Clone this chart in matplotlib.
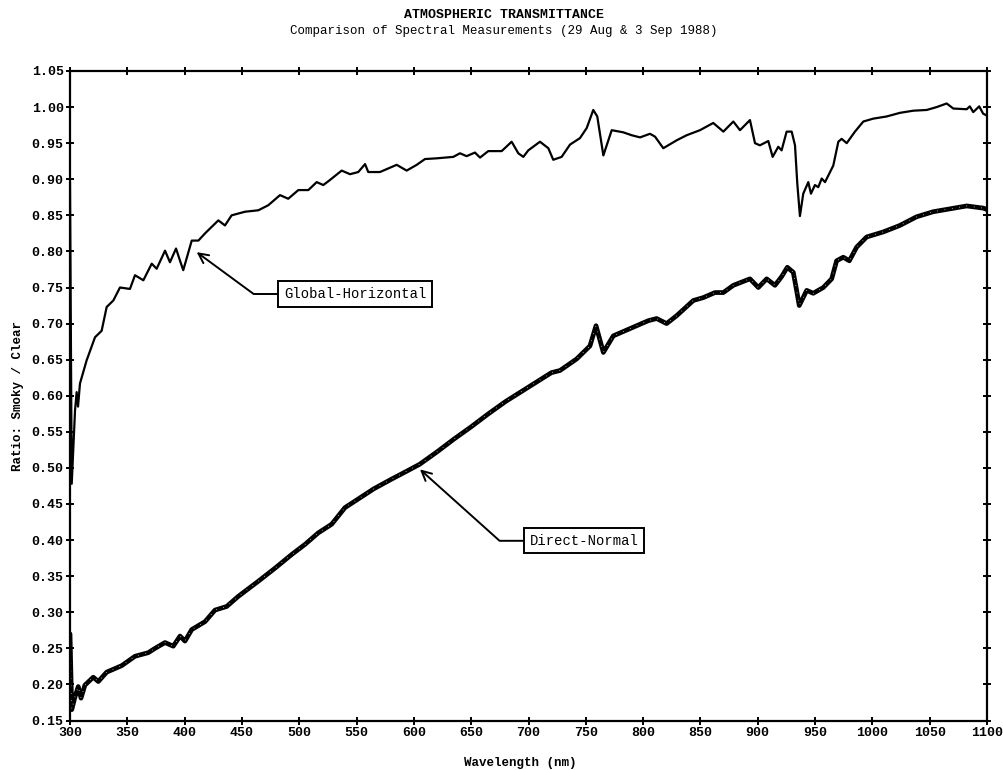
import matplotlib
matplotlib.use("Agg")
import matplotlib.pyplot as plt

# ---- data ----
global_wl = [300, 301.5, 304.4, 305.8, 307, 308.7, 314.5, 321.8, 327.6, 332, 337.8, 343.6,
             352.3, 356.7, 364, 371.3, 375.6, 382.9, 387.2, 392.5, 396, 398.8, 406.2, 412,
             417.8, 429.4, 435.2, 441, 452.7, 464.3, 473, 483.2, 490.4, 499.2, 507.9, 515.2,
             521, 526.8, 537, 544.3, 551.5, 557.4, 560.2, 570.4, 585, 593.7, 602.5, 609.7,
             619.9, 634.4, 640.2, 646, 653.3, 657.7, 664.9, 676.6, 685.3, 691.1, 695.5, 699.8,
             710, 717.3, 721.6, 728.9, 736.2, 744.9, 750.8, 756.5, 760, 765.3, 772.6, 782.7,
             790, 797.3, 806, 810.4, 817.6, 829.3, 838, 849.6, 861.2, 870, 878.7, 884.5,
             893.2, 897.6, 901.9, 909.2, 913, 917.9, 920.8, 925.2, 929.6, 932.5, 934.5, 936.8,
             939.7, 944.1, 946.4, 949.9, 952.8, 955.8, 958.7, 965.9, 970.3, 973.2, 977.6, 984.8,
             992.1, 1000.8, 1012.5, 1024, 1035.7, 1047.4, 1056.1, 1064.8, 1070.6, 1082.3, 1085,
             1088, 1093.2, 1096.6, 1100]
global_ratio = [0.895, 0.478, 0.58, 0.605, 0.585, 0.617, 0.649, 0.681, 0.69, 0.723, 0.732, 0.75,
                0.748, 0.767, 0.76, 0.783, 0.776, 0.801, 0.785, 0.804, 0.787, 0.774, 0.815, 0.815,
                0.825, 0.843, 0.836, 0.85, 0.855, 0.857, 0.864, 0.878, 0.873, 0.885, 0.885, 0.896,
                0.892, 0.899, 0.912, 0.907, 0.91, 0.921, 0.91, 0.91, 0.92, 0.912, 0.92, 0.928,
                0.929, 0.931, 0.936, 0.932, 0.937, 0.93, 0.939, 0.939, 0.952, 0.936, 0.931, 0.94,
                0.952, 0.943, 0.927, 0.931, 0.948, 0.957, 0.971, 0.996, 0.987, 0.933, 0.968, 0.965,
                0.961, 0.958, 0.963, 0.959, 0.943, 0.954, 0.961, 0.968, 0.978, 0.966, 0.98, 0.968,
                0.982, 0.95, 0.947, 0.953, 0.931, 0.945, 0.94, 0.966, 0.966, 0.947, 0.894, 0.849,
                0.88, 0.896, 0.88, 0.892, 0.889, 0.901, 0.896, 0.919, 0.952, 0.956, 0.95, 0.966,
                0.98, 0.984, 0.987, 0.992, 0.995, 0.996, 1.0, 1.005, 0.998, 0.997, 1.001,
                0.993, 1.001, 0.991, 0.988]

direct_wl = [300, 301.5, 304.4, 307.2, 309.6, 313, 320.3, 324.7, 332, 345.1, 356.7, 368.3,
             374.2, 382.9, 390.1, 396, 400.3, 406.2, 417.8, 426.5, 436.7, 446.8, 464.3, 478.8,
             493.4, 505, 516.6, 528.3, 539.9, 551.5, 565, 580, 592, 605, 620, 635, 650, 665,
             680, 695, 710, 720, 727.5, 742, 753.6, 758.9, 765.3, 774, 788.5, 804.5, 811.8,
             820.5, 829.3, 843.8, 852.5, 862.7, 870, 878.7, 893.2, 900.5, 907.8, 915, 920.8,
             925.8, 931, 933.9, 936.2, 942.7, 948.4, 957.2, 964.5, 968.8, 974.6, 979.9, 986.3,
             995, 1009.5, 1024, 1038.6, 1053.1, 1067.7, 1082.3, 1096.8, 1100]
direct_ratio = [0.27, 0.165, 0.183, 0.197, 0.181, 0.199, 0.21, 0.204, 0.217, 0.226, 0.239, 0.244,
                0.25, 0.258, 0.253, 0.267, 0.26, 0.276, 0.287, 0.303, 0.308, 0.322, 0.343, 0.361,
                0.38, 0.394, 0.41, 0.422, 0.445, 0.457, 0.471, 0.484, 0.494, 0.505, 0.522, 0.54,
                0.557, 0.575, 0.592, 0.607, 0.622, 0.632, 0.635, 0.651, 0.669, 0.697, 0.66, 0.683,
                0.693, 0.704, 0.707, 0.70, 0.711, 0.732, 0.736, 0.743, 0.743, 0.753, 0.762, 0.75,
                0.762, 0.753, 0.765, 0.778, 0.771, 0.746, 0.725, 0.746, 0.742, 0.75, 0.762, 0.787,
                0.792, 0.787, 0.806, 0.82, 0.827, 0.836, 0.848, 0.855, 0.859, 0.863, 0.86, 0.858]

x_ticks = list(range(300, 1101, 50))
y_ticks = [0.15, 0.20, 0.25, 0.30, 0.35, 0.40, 0.45, 0.50, 0.55, 0.60, 0.65, 0.70,
           0.75, 0.80, 0.85, 0.90, 0.95, 1.00, 1.05]

title1 = "ATMOSPHERIC TRANSMITTANCE"
title2 = "Comparison of Spectral Measurements (29 Aug & 3 Sep 1988)"
xlabel = "Wavelength (nm)"
ylabel = "Ratio: Smoky / Clear"
label_global = "Global-Horizontal"
label_direct = "Direct-Normal"

MONO = ["Liberation Mono", "DejaVu Sans Mono"]

fig = plt.figure(figsize=(10.04, 7.70), dpi=100)
ax = fig.add_axes([70 / 1004, 1 - 720.5 / 770, 917 / 1004, (720.5 - 71) / 770])

ax.plot(global_wl, global_ratio, color="black", lw=1.6, solid_joinstyle="round")
ax.plot(direct_wl, direct_ratio, color="black", lw=3.4, solid_joinstyle="round",
        solid_capstyle="round")
ax.plot(direct_wl, direct_ratio, color="white", lw=0.7, linestyle=(0, (0.6, 7)))

ax.set_xlim(300, 1100)
ax.set_ylim(0.15, 1.05)
ax.set_xticks(x_ticks)
ax.set_yticks(y_ticks)
ax.set_xticklabels([str(v) for v in x_ticks])
ax.set_yticklabels([f"{v:.2f}" for v in y_ticks])
ax.tick_params(direction="inout", length=6, width=1.4, top=True, right=True,
               labeltop=False, labelright=False, color="black")
ax.tick_params(axis="x", pad=2)
ax.tick_params(axis="y", pad=1.5)
for lab in ax.get_xticklabels() + ax.get_yticklabels():
    lab.set_fontfamily(MONO)
    lab.set_fontweight("bold")
    lab.set_fontsize(9.5)
for sp in ax.spines.values():
    sp.set_linewidth(1.6)

fig.text(0.502, 1 - 15 / 770, title1, ha="center", va="center", family=MONO,
         fontweight="bold", fontsize=9.5)
fig.text(0.502, 1 - 31 / 770, title2, ha="center", va="center", family=MONO, fontsize=9)
fig.text(520 / 1004, 1 - 763 / 770, xlabel, ha="center", va="center", family=MONO,
         fontweight="bold", fontsize=9)
fig.text(18 / 1004, 1 - 396 / 770, ylabel, ha="center", va="center", rotation=90,
         family=MONO, fontweight="bold", fontsize=9)

box = dict(boxstyle="square,pad=0.4", fc="white", ec="black", lw=1.4)
arrow_g = dict(arrowstyle="->,head_length=0.7,head_width=0.35", color="black", lw=1.4,
               shrinkA=0, shrinkB=0, connectionstyle="angle,angleA=0,angleB=-36.3,rad=0")
arrow_d = dict(arrowstyle="->,head_length=0.7,head_width=0.35", color="black", lw=1.4,
               shrinkA=0, shrinkB=0, connectionstyle="angle,angleA=0,angleB=-41.9,rad=0")
ax.annotate(label_global, xy=(410.5, 0.799), xytext=(548.6, 0.741), family=MONO,
            fontsize=10, ha="center", va="center", bbox=box, arrowprops=arrow_g)
ax.annotate(label_direct, xy=(605.3, 0.498), xytext=(748.4, 0.399), family=MONO,
            fontsize=10, ha="center", va="center", bbox=box, arrowprops=arrow_d)

fig.savefig("out.png", dpi=100)
